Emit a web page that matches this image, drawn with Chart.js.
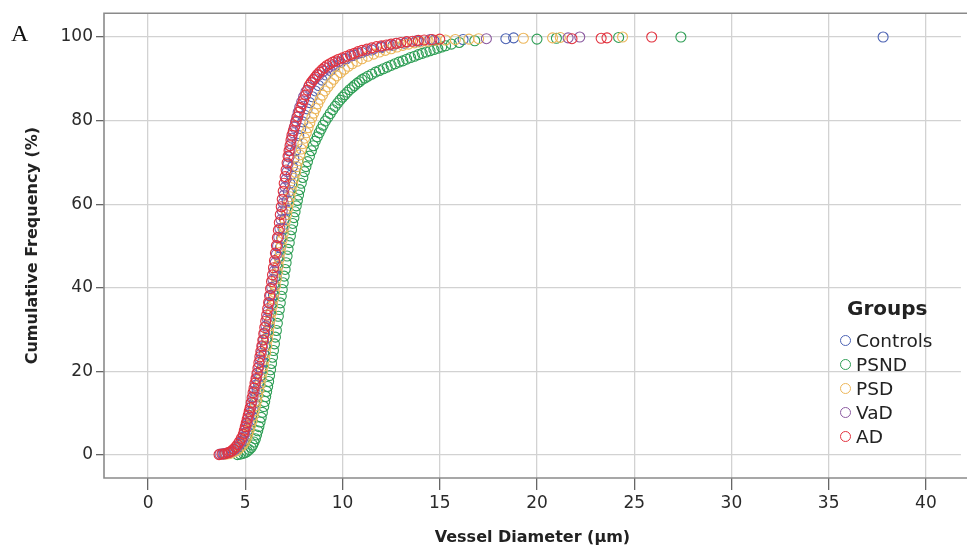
<!DOCTYPE html>
<html>

<head>
    <meta charset="utf-8">
    <title>Cumulative Frequency of Vessel Diameter</title>
    <script src="https://cdn.jsdelivr.net/npm/chart.js"></script>
</head>

<body>
    <style>
        body {
            margin: 0;
            padding: 0;
            background-color: #fff;
        }

        .wrap {
            position: relative;
            width: 967px;
            height: 552px;
            overflow: hidden;
        }

        .panel {
            position: absolute;
            left: 11px;
            top: 20px;
            font-family: "Liberation Serif", serif;
            font-size: 24px;
            line-height: 26px;
            color: #111;
        }

        .legend {
            position: absolute;
            left: 840px;
            top: 297px;
            font-family: "DejaVu Sans", sans-serif;
            color: #222;
        }

        .legend .title {
            font-size: 20px;
            font-weight: bold;
            line-height: 23px;
            padding-left: 7px;
            margin-bottom: 8px;
        }

        .legend .item {
            display: flex;
            align-items: center;
            height: 24px;
            font-size: 18.5px;
        }

        .legend .dot {
            display: inline-block;
            width: 9px;
            height: 9px;
            border: 1.2px solid;
            border-radius: 50%;
            margin-right: 5px;
        }
    </style>

    <div class="wrap">
        <canvas id="cdf" width="967" height="552"></canvas>
        <div class="panel">A</div>
        <div class="legend" id="legend">
            <div class="title">Groups</div>
        </div>
    </div>

    <script>
        // axis ticks
        const xTicks = [0, 5, 10, 15, 20, 25, 30, 35, 40];
        const yTicks = [0, 20, 40, 60, 80, 100];

        const groupNames = ['Controls', 'PSND', 'PSD', 'VaD', 'AD'];
        const groupColors = ['#4b62b3', '#2e9e55', '#ecb65a', '#8b5aa0', '#e2333f'];

        // [diameter (µm), cumulative %]
        const controls = [
            [3.9, 0.2], [4.1, 0.4], [4.3, 0.6], [4.5, 1.1], [4.65, 1.7], [4.8, 2.5], [4.92, 3.4], [5.02, 4.5],
            [5.1, 5.6], [5.18, 6.8], [5.26, 8.1], [5.33, 9.5], [5.4, 10.9], [5.47, 12.4], [5.54, 13.9], [5.61, 15.5],
            [5.68, 17.1], [5.75, 18.8], [5.82, 20.5], [5.89, 22.3], [5.96, 24.1], [6.03, 26.0], [6.1, 27.9], [6.17, 29.9],
            [6.24, 31.9], [6.31, 34.0], [6.38, 36.1], [6.45, 38.3], [6.52, 40.5], [6.59, 42.7], [6.66, 45.0], [6.73, 47.3],
            [6.8, 49.6], [6.87, 51.9], [6.94, 54.2], [7.01, 56.4], [7.08, 58.6], [7.15, 60.8], [7.22, 62.9], [7.29, 65.0],
            [7.36, 67.0], [7.43, 69.0], [7.5, 70.9], [7.58, 72.8], [7.66, 74.6], [7.75, 76.4], [7.85, 78.1], [7.95, 79.7],
            [8.06, 81.3], [8.18, 82.8], [8.31, 84.3], [8.45, 85.7], [8.6, 87.1], [8.77, 88.4], [8.95, 89.7], [9.15, 90.9],
            [9.37, 92.0], [9.6, 93.0], [9.9, 93.9], [10.2, 94.8], [10.6, 95.6], [11.0, 96.3], [11.5, 96.9], [12.0, 97.5],
            [12.6, 98.0], [13.2, 98.5], [13.9, 98.9], [14.7, 99.2], [16.2, 99.4], [18.4, 99.6], [18.8, 99.8], [37.8, 100]
        ];

        const psnd = [
            [4.6, 0.1], [4.75, 0.2], [4.9, 0.4], [5.0, 0.6], [5.1, 0.9], [5.2, 1.3], [5.3, 1.8], [5.38, 2.4],
            [5.45, 3.1], [5.52, 3.9], [5.58, 4.8], [5.64, 5.8], [5.7, 6.8], [5.76, 7.9], [5.82, 9.0], [5.88, 10.2],
            [5.95, 11.6], [6.0, 12.8], [6.05, 14.0], [6.1, 15.2], [6.15, 16.4], [6.2, 17.6], [6.25, 19.0], [6.3, 20.4],
            [6.35, 21.9], [6.4, 23.4], [6.45, 25.0], [6.5, 26.6], [6.55, 28.2], [6.6, 29.8], [6.65, 31.5], [6.7, 33.2],
            [6.75, 34.8], [6.8, 36.4], [6.85, 38.0], [6.9, 39.6], [6.95, 41.2], [7.0, 42.8], [7.05, 44.4], [7.1, 46.0],
            [7.15, 47.6], [7.2, 49.2], [7.26, 50.8], [7.32, 52.4], [7.38, 53.9], [7.44, 55.4], [7.5, 56.8], [7.56, 58.2],
            [7.62, 59.6], [7.68, 60.9], [7.74, 62.2], [7.8, 63.5], [7.88, 65.0], [7.96, 66.4], [8.04, 67.8], [8.12, 69.0],
            [8.2, 70.2], [8.3, 71.5], [8.4, 72.8], [8.5, 74.0], [8.6, 75.1], [8.7, 76.1], [8.8, 77.1], [8.9, 78.0],
            [9.0, 78.9], [9.12, 79.9], [9.25, 80.8], [9.37, 81.7], [9.5, 82.6], [9.62, 83.4], [9.75, 84.2], [9.87, 84.9],
            [10.0, 85.6], [10.12, 86.2], [10.25, 86.8], [10.37, 87.4], [10.5, 87.9], [10.62, 88.4], [10.75, 88.9], [10.87, 89.3],
            [11.0, 89.8], [11.15, 90.2], [11.3, 90.6], [11.5, 91.1], [11.7, 91.6], [11.9, 92.0], [12.1, 92.4], [12.3, 92.8],
            [12.5, 93.2], [12.7, 93.6], [12.9, 94.0], [13.1, 94.3], [13.3, 94.7], [13.5, 95.1], [13.7, 95.4], [13.9, 95.8],
            [14.1, 96.1], [14.3, 96.4], [14.5, 96.7], [14.7, 97.0], [14.9, 97.3], [15.1, 97.6], [15.3, 97.9], [15.6, 98.3],
            [16.0, 98.7], [16.8, 99.1], [20.0, 99.5], [21.0, 99.7], [24.2, 99.9], [27.4, 100]
        ];

        const psd = [
            [4.0, 0.2], [4.15, 0.3], [4.3, 0.5], [4.45, 0.8], [4.6, 1.2], [4.72, 1.7], [4.84, 2.3], [4.95, 3.0],
            [5.05, 3.9], [5.13, 4.9], [5.2, 5.9], [5.27, 7.0], [5.34, 8.2], [5.4, 9.4], [5.46, 10.6], [5.52, 11.8],
            [5.58, 13.0], [5.64, 14.3], [5.7, 15.6], [5.76, 17.0], [5.82, 18.4], [5.88, 19.8], [5.94, 21.3], [6.0, 22.9],
            [6.05, 24.5], [6.1, 26.1], [6.15, 27.7], [6.2, 29.3], [6.25, 30.9], [6.3, 32.5], [6.35, 34.1], [6.4, 35.7],
            [6.45, 37.3], [6.5, 38.9], [6.55, 40.5], [6.6, 42.1], [6.65, 43.7], [6.7, 45.3], [6.75, 46.9], [6.8, 48.5],
            [6.85, 50.0], [6.9, 51.5], [6.95, 53.0], [7.0, 54.5], [7.06, 56.0], [7.12, 57.5], [7.18, 59.0], [7.24, 60.4],
            [7.3, 61.8], [7.37, 63.3], [7.44, 64.8], [7.51, 66.2], [7.58, 67.6], [7.65, 69.0], [7.72, 70.4], [7.8, 71.8],
            [7.88, 73.2], [7.96, 74.5], [8.05, 75.8], [8.14, 77.1], [8.23, 78.3], [8.32, 79.5], [8.42, 80.7], [8.52, 81.8],
            [8.62, 82.9], [8.73, 84.0], [8.85, 85.1], [8.97, 86.1], [9.1, 87.1], [9.25, 88.1], [9.4, 89.0], [9.55, 89.9],
            [9.7, 90.7], [9.9, 91.5], [10.1, 92.3], [10.3, 93.0], [10.5, 93.6], [10.75, 94.2], [11.0, 94.8], [11.3, 95.4],
            [11.6, 95.9], [11.9, 96.4], [12.2, 96.8], [12.5, 97.2], [12.8, 97.6], [13.1, 98.0], [13.4, 98.3], [13.7, 98.6],
            [14.0, 98.8], [14.4, 99.0], [14.8, 99.2], [15.3, 99.3], [15.8, 99.4], [16.5, 99.5], [17.0, 99.6], [19.3, 99.7],
            [20.8, 99.8], [21.2, 99.9], [24.4, 100]
        ];

        const vad = [
            [3.7, 0.2], [3.85, 0.3], [4.0, 0.4], [4.15, 0.6], [4.3, 0.9], [4.45, 1.3], [4.6, 1.9], [4.72, 2.6],
            [4.82, 3.4], [4.9, 4.3], [4.97, 5.3], [5.04, 6.4], [5.1, 7.6], [5.16, 8.8], [5.22, 10.0], [5.28, 11.3],
            [5.34, 12.6], [5.4, 13.9], [5.46, 15.3], [5.52, 16.7], [5.58, 18.1], [5.64, 19.6], [5.7, 21.1], [5.76, 22.7],
            [5.82, 24.3], [5.88, 25.9], [5.94, 27.5], [6.0, 29.2], [6.06, 30.9], [6.12, 32.7], [6.18, 34.5], [6.24, 36.3],
            [6.3, 38.2], [6.36, 40.1], [6.42, 42.0], [6.48, 44.0], [6.54, 46.0], [6.6, 48.0], [6.66, 50.0], [6.72, 52.1],
            [6.78, 54.2], [6.84, 56.3], [6.9, 58.4], [6.95, 60.3], [7.0, 62.2], [7.05, 64.1], [7.1, 66.0], [7.15, 67.8],
            [7.2, 69.6], [7.25, 71.3], [7.3, 72.9], [7.35, 74.4], [7.4, 75.8], [7.46, 77.1], [7.52, 78.4], [7.58, 79.6],
            [7.65, 80.8], [7.72, 82.0], [7.8, 83.2], [7.9, 84.5], [8.0, 85.7], [8.12, 86.9], [8.25, 88.0], [8.4, 89.0],
            [8.58, 90.0], [8.78, 90.9], [9.0, 91.8], [9.25, 92.6], [9.5, 93.3], [9.8, 94.1], [10.1, 94.8], [10.45, 95.5],
            [10.8, 96.1], [11.2, 96.7], [11.6, 97.2], [12.0, 97.7], [12.4, 98.1], [12.8, 98.5], [13.3, 98.8], [13.8, 99.1],
            [14.5, 99.4], [17.4, 99.6], [21.6, 99.8], [22.2, 100]
        ];

        const ad = [
            [3.65, 0.1], [3.8, 0.2], [3.95, 0.3], [4.1, 0.5], [4.2, 0.7], [4.3, 1.0], [4.4, 1.4], [4.5, 1.9],
            [4.6, 2.5], [4.7, 3.2], [4.8, 4.0], [4.9, 5.0], [4.95, 5.9], [5.0, 6.8], [5.05, 7.7], [5.1, 8.6],
            [5.15, 9.5], [5.2, 10.4], [5.25, 11.3], [5.3, 12.5], [5.35, 13.7], [5.4, 14.9], [5.45, 16.0], [5.5, 17.2],
            [5.55, 18.3], [5.6, 19.5], [5.65, 20.8], [5.7, 22.1], [5.75, 23.5], [5.8, 24.8], [5.85, 26.1], [5.9, 27.5],
            [5.95, 29.0], [6.0, 30.5], [6.05, 32.0], [6.1, 33.5], [6.15, 35.0], [6.2, 36.5], [6.25, 38.1], [6.3, 39.8],
            [6.35, 41.5], [6.4, 43.1], [6.45, 44.8], [6.5, 46.5], [6.55, 48.3], [6.6, 50.1], [6.65, 52.0], [6.7, 53.8],
            [6.75, 55.6], [6.8, 57.5], [6.85, 59.4], [6.9, 61.2], [6.95, 63.1], [7.0, 65.0], [7.05, 66.6], [7.1, 68.2],
            [7.15, 69.9], [7.2, 71.5], [7.25, 72.8], [7.3, 74.0], [7.35, 75.3], [7.4, 76.5], [7.47, 77.6], [7.55, 78.7],
            [7.62, 79.9], [7.7, 81.0], [7.78, 82.1], [7.86, 83.1], [7.93, 84.0], [8.0, 85.0], [8.1, 86.1], [8.2, 87.3],
            [8.3, 88.5], [8.4, 89.2], [8.5, 89.8], [8.6, 90.4], [8.7, 91.0], [8.82, 91.6], [8.95, 92.2], [9.08, 92.7],
            [9.2, 93.2], [9.35, 93.6], [9.5, 94.0], [9.65, 94.3], [9.8, 94.7], [10.0, 95.0], [10.2, 95.4], [10.4, 95.8],
            [10.6, 96.1], [10.8, 96.5], [11.0, 96.8], [11.25, 97.1], [11.5, 97.4], [11.75, 97.7], [12.0, 97.9], [12.25, 98.1],
            [12.5, 98.3], [12.75, 98.5], [13.0, 98.7], [13.3, 98.9], [13.6, 99.0], [13.9, 99.2], [14.2, 99.3], [14.6, 99.4],
            [15.0, 99.5], [21.8, 99.6], [23.3, 99.7], [23.6, 99.8], [25.9, 100]
        ];

        const groupData = [controls, psnd, psd, vad, ad];

        // legend (inside the plot, bottom right)
        const legendBox = document.getElementById('legend');
        groupNames.forEach((name, i) => {
            const row = document.createElement('div');
            row.className = 'item';
            row.innerHTML = '<span class="dot" style="border-color:' + groupColors[i] + '"></span>' + name;
            legendBox.appendChild(row);
        });

        // frame: left, top and bottom edges (figure is cut off on the right)
        const frame = {
            id: 'frame',
            beforeDatasetsDraw(chart) {
                const a = chart.chartArea;
                const c = chart.ctx;
                c.save();
                c.strokeStyle = '#8a8a8a';
                c.lineWidth = 1.6;
                c.beginPath();
                c.moveTo(chart.width, a.top);
                c.lineTo(a.left, a.top);
                c.lineTo(a.left, a.bottom);
                c.lineTo(chart.width, a.bottom);
                c.stroke();
                c.restore();
            }
        };

        const tickFont = { family: 'DejaVu Sans', size: 17 };
        const titleFont = { family: 'DejaVu Sans', size: 16, weight: 'bold' };

        new Chart(document.getElementById('cdf').getContext('2d'), {
            type: 'scatter',
            data: {
                datasets: groupNames.map((name, i) => ({
                    label: name,
                    data: groupData[i].map(p => ({ x: p[0], y: p[1] })),
                    borderColor: groupColors[i],
                    backgroundColor: 'rgba(0,0,0,0)',
                    pointRadius: 5,
                    pointBorderWidth: 1.1,
                    order: groupNames.length - i
                }))
            },
            options: {
                responsive: false,
                animation: false,
                layout: { padding: { top: 11, right: -5, bottom: 0, left: 0 } },
                plugins: {
                    legend: { display: false },
                    tooltip: { enabled: false }
                },
                scales: {
                    x: {
                        type: 'linear',
                        min: -2.265,
                        max: 41.8,
                        afterBuildTicks: axis => { axis.ticks = xTicks.map(v => ({ value: v })); },
                        afterFit: scale => { scale.height = 74; },
                        border: { display: false },
                        grid: { color: '#d2d2d2', lineWidth: 1.3, tickColor: '#666', tickLength: 12 },
                        ticks: { font: tickFont, color: '#2a2a2a', padding: 3, maxRotation: 0 },
                        title: {
                            display: true,
                            text: 'Vessel Diameter (µm)',
                            font: titleFont,
                            color: '#222',
                            padding: { top: 5, bottom: 5 }
                        }
                    },
                    y: {
                        type: 'linear',
                        min: -5.5,
                        max: 105.7,
                        afterBuildTicks: axis => { axis.ticks = yTicks.map(v => ({ value: v })); },
                        afterFit: scale => { scale.width = 104; },
                        border: { display: false },
                        grid: { color: '#d2d2d2', lineWidth: 1.3, tickColor: '#666', tickLength: 8 },
                        ticks: { font: tickFont, color: '#2a2a2a', padding: 3 },
                        title: {
                            display: true,
                            text: 'Cumulative Frequency (%)',
                            font: titleFont,
                            color: '#222',
                            padding: { top: 23, bottom: 23 }
                        }
                    }
                }
            },
            plugins: [frame]
        });
    </script>
</body>

</html>
